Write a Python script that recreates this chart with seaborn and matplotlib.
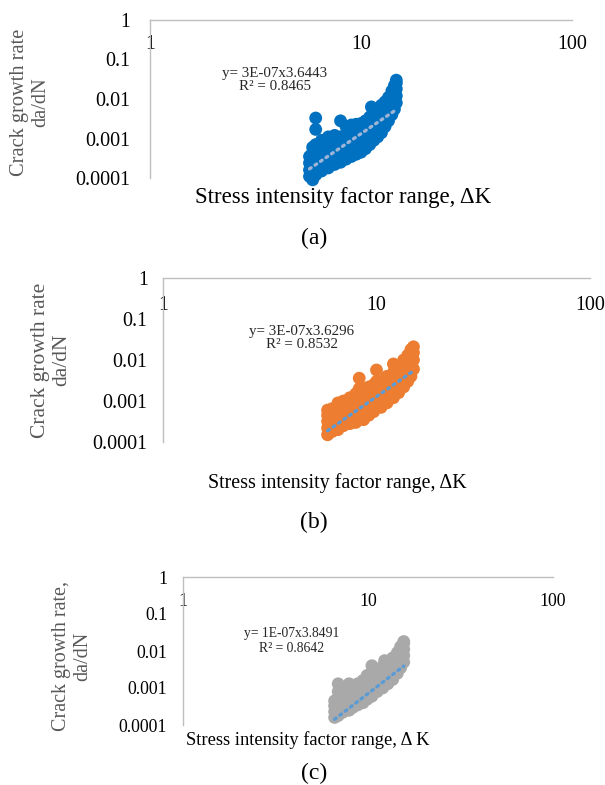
import numpy as np
import matplotlib
matplotlib.use("Agg")
import matplotlib.pyplot as plt
import seaborn as sns
from matplotlib.ticker import NullLocator

sns.set_theme(style="white")
plt.rcParams["font.family"] = ["Liberation Serif", "DejaVu Serif"]

# ---- data (delta K, da/dN) ----
dk_a = [5.7, 5.7, 5.7, 5.7,
        5.9, 5.9, 5.9, 5.9, 5.9, 5.9,
        6.1, 6.1, 6.1, 6.1, 6.1, 6.1,
        6.5, 6.5, 6.5, 6.5, 6.5,
        7.0, 7.0, 7.0, 7.0, 7.0,
        7.5, 7.5, 7.5, 7.5, 7.5,
        8.0, 8.0, 8.0, 8.0, 8.0,
        8.5, 8.5, 8.5, 8.5, 8.5,
        9.0, 9.0, 9.0, 9.0, 9.0,
        9.5, 9.5, 9.5, 9.5, 9.5,
        10.0, 10.0, 10.0, 10.0, 10.0,
        10.5, 10.5, 10.5, 10.5, 10.5,
        11.0, 11.0, 11.0, 11.0, 11.0, 11.2,
        11.5, 11.5, 11.5, 11.5, 11.5,
        12.0, 12.0, 12.0, 12.0, 12.0,
        12.5, 12.5, 12.5, 12.5, 12.5,
        13.0, 13.0, 13.0, 13.0, 13.0,
        13.5, 13.5, 13.5, 13.5, 13.5,
        14.0, 14.0, 14.0, 14.0, 14.0,
        14.4, 14.4, 14.4, 14.4, 14.4,
        14.7, 14.7, 14.7, 14.7, 14.7]
dadn_a = [1.1e-4, 1.6e-4, 2.4e-4, 3.5e-4,
          9e-5, 1.3e-4, 2e-4, 3e-4, 4.5e-4, 6e-4,
          1.2e-4, 2.5e-4, 4e-4, 7e-4, 1.7e-3, 3.3e-3,
          1.5e-4, 2.5e-4, 4e-4, 6e-4, 9e-4,
          1.8e-4, 3e-4, 5e-4, 8e-4, 1.1e-3,
          2.2e-4, 3.5e-4, 6e-4, 9e-4, 1.2e-3,
          2.5e-4, 4.5e-4, 7e-4, 1.1e-3, 2.8e-3,
          3e-4, 5e-4, 8e-4, 1.3e-3, 2.0e-3,
          3.5e-4, 6e-4, 1e-3, 1.5e-3, 2.2e-3,
          4e-4, 7e-4, 1.1e-3, 1.7e-3, 2.3e-3,
          4.5e-4, 8e-4, 1.2e-3, 1.8e-3, 2.4e-3,
          5.5e-4, 9e-4, 1.4e-3, 2.1e-3, 2.8e-3,
          7e-4, 1.1e-3, 1.7e-3, 2.6e-3, 3.5e-3, 6.3e-3,
          9e-4, 1.4e-3, 2.1e-3, 3.2e-3, 4.2e-3,
          1.1e-3, 1.7e-3, 2.6e-3, 3.8e-3, 5e-3,
          1.4e-3, 2.1e-3, 3.2e-3, 4.8e-3, 7e-3,
          2e-3, 3e-3, 4.5e-3, 6.5e-3, 8.5e-3,
          2.8e-3, 4e-3, 6e-3, 8.5e-3, 1.1e-2,
          4e-3, 6e-3, 8.5e-3, 1.2e-2, 1.6e-2,
          5.5e-3, 8e-3, 1.2e-2, 1.7e-2, 2.2e-2,
          8e-3, 1.2e-2, 1.8e-2, 2.5e-2, 3e-2]

dk_b = [5.9, 5.9, 5.9, 5.9, 5.9,
        6.2, 6.2, 6.2, 6.2,
        6.6, 6.6, 6.6, 6.6, 6.6,
        7.0, 7.0, 7.0, 7.0, 7.0,
        7.5, 7.5, 7.5, 7.5, 7.5,
        8.0, 8.0, 8.0, 8.0, 8.0,
        8.3, 8.3, 8.3,
        8.7, 8.7, 8.7, 8.7, 8.7,
        9.2, 9.2, 9.2, 9.2, 9.2,
        9.7, 9.7, 9.7, 9.7, 9.7,
        10.0, 10.0,
        10.5, 10.5, 10.5, 10.5, 10.5,
        11.2, 11.2, 11.2, 11.2, 11.2,
        12.0, 12.0, 12.0, 12.0, 12.0, 12.0,
        12.7, 12.7, 12.7, 12.7, 12.7,
        13.4, 13.4, 13.4, 13.4, 13.4,
        14.0, 14.0, 14.0, 14.0, 14.0,
        14.5, 14.5, 14.5, 14.5, 14.5,
        14.9, 14.9, 14.9, 14.9]
dadn_b = [1.5e-4, 2.2e-4, 3.2e-4, 4.5e-4, 6e-4,
          1.8e-4, 2.8e-4, 4e-4, 6.5e-4,
          2e-4, 3e-4, 4.5e-4, 7e-4, 9e-4,
          2.5e-4, 3.5e-4, 5e-4, 8e-4, 1.0e-3,
          2.8e-4, 4e-4, 6e-4, 9e-4, 1.2e-3,
          3e-4, 4.5e-4, 7e-4, 1e-3, 1.5e-3,
          1.3e-3, 2.0e-3, 3.6e-3,
          3.5e-4, 5e-4, 8e-4, 1.2e-3, 2e-3,
          4.5e-4, 7e-4, 1e-3, 1.5e-3, 2.2e-3,
          5.5e-4, 8e-4, 1.2e-3, 1.8e-3, 2.5e-3,
          3e-3, 5.7e-3,
          7e-4, 1e-3, 1.5e-3, 2.2e-3, 3e-3,
          9e-4, 1.3e-3, 2e-3, 3e-3, 4e-3,
          1.2e-3, 1.8e-3, 2.7e-3, 3.8e-3, 5e-3, 8e-3,
          1.6e-3, 2.4e-3, 3.5e-3, 5e-3, 7e-3,
          2.2e-3, 3.2e-3, 4.8e-3, 7e-3, 1e-2,
          3e-3, 4.5e-3, 6.5e-3, 9e-3, 1.3e-2,
          4e-3, 6e-3, 9e-3, 1.3e-2, 1.8e-2,
          6e-3, 1e-2, 1.5e-2, 2.1e-2]

dk_c = [6.6, 6.6, 6.6, 6.6,
        6.9, 6.9, 6.9, 6.9, 6.9, 6.9,
        7.3, 7.3, 7.3, 7.3, 7.3,
        7.9, 7.9, 7.9, 7.9, 7.9, 7.9,
        8.3, 8.3, 8.3, 8.3,
        8.8, 8.8, 8.8, 8.8, 8.8,
        9.4, 9.4, 9.4, 9.4, 9.4,
        9.9, 9.9, 9.9, 9.9, 9.9,
        10.5, 10.5, 10.5, 10.5, 10.5, 10.5,
        11.2, 11.2, 11.2, 11.2, 11.2,
        12.0, 12.0, 12.0, 12.0, 12.0, 12.3,
        12.8, 12.8, 12.8, 12.8, 12.8,
        13.6, 13.6, 13.6, 13.6, 13.6,
        14.4, 14.4, 14.4, 14.4, 14.4,
        15.0, 15.0, 15.0, 15.0, 15.0,
        15.6, 15.6, 15.6, 15.6, 15.6]
dadn_c = [1.6e-4, 2.3e-4, 3.3e-4, 4.5e-4,
          1.8e-4, 2.6e-4, 3.8e-4, 5.5e-4, 8e-4, 1.3e-3,
          2.2e-4, 3e-4, 4.5e-4, 6.5e-4, 9e-4,
          2.5e-4, 3.5e-4, 5e-4, 7.5e-4, 1.0e-3, 1.3e-3,
          3e-4, 4.2e-4, 6e-4, 9e-4,
          3.5e-4, 5e-4, 7e-4, 1e-3, 1.3e-3,
          4e-4, 6e-4, 8.5e-4, 1.2e-3, 1.6e-3,
          5e-4, 7e-4, 1e-3, 1.5e-3, 2.2e-3,
          6e-4, 8.5e-4, 1.2e-3, 1.8e-3, 2.5e-3, 4e-3,
          8e-4, 1.1e-3, 1.6e-3, 2.3e-3, 3e-3,
          1e-3, 1.4e-3, 2e-3, 2.8e-3, 3.8e-3, 5.5e-3,
          1.3e-3, 1.8e-3, 2.6e-3, 3.6e-3, 4.8e-3,
          1.7e-3, 2.4e-3, 3.4e-3, 4.8e-3, 6.5e-3,
          2.5e-3, 3.5e-3, 5e-3, 7e-3, 9e-3,
          3.5e-3, 5e-3, 7e-3, 1e-2, 1.3e-2,
          5e-3, 7.5e-3, 1.1e-2, 1.6e-2, 1.8e-2]

# power-law trendline coefficients printed on the chart
coef = [3e-7, 3e-7, 1e-7]
expo = [3.6443, 3.6296, 3.8491]
r2 = ["0.8465", "0.8532", "0.8642"]
eq_text = ["3E-07x3.6443", "3E-07x3.6296", "1E-07x3.8491"]

ytick_vals = [1e-4, 1e-3, 1e-2, 1e-1, 1]
ytick_labels = ["0.0001", "0.001", "0.01", "0.1", "1"]
xtick_vals = [1, 10, 100]
xtick_labels = ["1", "10", "100"]

W, H = 605, 785
fig = plt.figure(figsize=(W / 100, H / 100), dpi=100)

def box(l, r, t, b):
    return [l / W, 1 - b / H, (r - l) / W, (b - t) / H]

panels = [
    dict(dk=dk_a, dadn=dadn_a, color="#0070C0", trend="#9DB4D6",
         rect=box(150, 572, 20, 178), fs=14.4, ypad=14, xpad=-24.5,
         ylab="Crack growth rate\nda/dN", ylab_xy=(30, 102), ylab_fs=14.7,
         xlab="Stress intensity factor range, \u0394K", xlab_xy=(343, 198), xlab_fs=16.5,
         tag="(a)", tag_y=238, eq_xy=(275, 80), eq_fs=10.8),
    dict(dk=dk_b, dadn=dadn_b, color="#ED7D31", trend="#5B9BD5",
         rect=box(163, 590, 278, 442), fs=14.4, ypad=11, xpad=-26.5,
         ylab="Crack growth rate\nda/dN", ylab_xy=(51, 360), ylab_fs=15.5,
         xlab="Stress intensity factor range, \u0394K", xlab_xy=(337, 483), xlab_fs=14.4,
         tag="(b)", tag_y=522, eq_xy=(302, 338), eq_fs=10.8),
    dict(dk=dk_c, dadn=dadn_c, color="#A9A9A9", trend="#5B9BD5",
         rect=box(183, 553, 577, 725), fs=12.8, ypad=11.5, xpad=-23.5,
         ylab="Crack growth rate,\nda/dN", ylab_xy=(72, 656), ylab_fs=14.5,
         xlab="Stress intensity factor range, \u0394 K", xlab_xy=(308, 740), xlab_fs=13.3,
         tag="(c)", tag_y=773, eq_xy=(292, 641), eq_fs=9.8),
]

for i, p in enumerate(panels):
    ax = fig.add_axes(p["rect"])
    sns.scatterplot(x=p["dk"], y=p["dadn"], ax=ax, color=p["color"], s=85,
                    edgecolor="none", linewidth=0, alpha=1, clip_on=False, zorder=3)
    xs = np.linspace(min(p["dk"]), max(p["dk"]), 30)
    ax.plot(xs, coef[i] * xs ** expo[i], color=p["trend"], lw=2.4,
            linestyle=(0, (0.6, 1.4)), dash_capstyle="round", zorder=4)

    ax.set_xscale("log")
    ax.set_yscale("log")
    ax.set_xlim(1, 100)
    ax.set_ylim(1e-4, 1)
    ax.set_xticks(xtick_vals)
    ax.set_xticklabels(xtick_labels)
    ax.set_yticks(ytick_vals)
    ax.set_yticklabels(ytick_labels)
    ax.xaxis.set_minor_locator(NullLocator())
    ax.yaxis.set_minor_locator(NullLocator())
    ax.xaxis.tick_top()
    ax.tick_params(axis="x", length=0, pad=p["xpad"], labelsize=p["fs"], colors="black")
    ax.tick_params(axis="y", length=0, pad=p["ypad"], labelsize=p["fs"], colors="black")
    for side in ["right", "bottom"]:
        ax.spines[side].set_visible(False)
    for side in ["top", "left"]:
        ax.spines[side].set_color("#BFBFBF")
        ax.spines[side].set_linewidth(1)
    ax.set_facecolor("none")
    ax.grid(False)

    fig.text(p["ylab_xy"][0] / W, 1 - p["ylab_xy"][1] / H, p["ylab"], rotation=90,
             ha="center", va="center", multialignment="center",
             fontsize=p["ylab_fs"], color="#595959", linespacing=1.15)
    fig.text(p["xlab_xy"][0] / W, 1 - p["xlab_xy"][1] / H, p["xlab"],
             ha="center", va="center", fontsize=p["xlab_fs"], color="black")
    fig.text(314 / W, 1 - p["tag_y"] / H, p["tag"], ha="center", va="center",
             fontsize=17, color="black")
    fig.text(p["eq_xy"][0] / W, 1 - p["eq_xy"][1] / H,
             "y= " + eq_text[i] + "\nR\u00b2 = " + r2[i],
             ha="center", va="center", multialignment="center",
             fontsize=p["eq_fs"], color="#262626", linespacing=1.1)

fig.savefig("out.png", dpi=100, facecolor="white")
